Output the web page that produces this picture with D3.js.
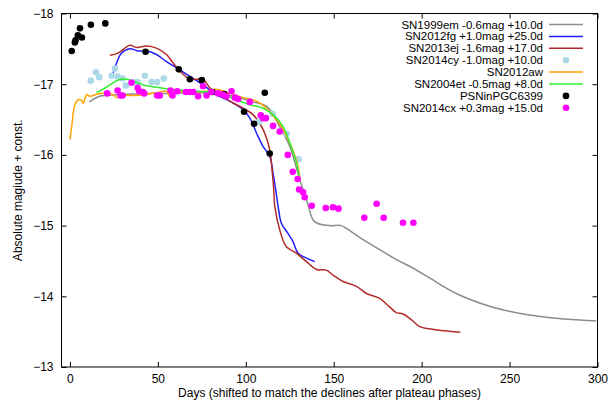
<!DOCTYPE html>
<html>
<head>
<meta charset="utf-8">
<script src="https://cdn.jsdelivr.net/npm/d3@7"></script>
<style>
  body { margin: 0; background: #fff; }
  text { font-family: "Liberation Sans", Arial, sans-serif; }
</style>
</head>
<body>
<div id="chart"></div>
<script>
// light curves: [day, mag]
var sn1999em = [[11,-16.75],[17,-16.83],[26.5,-16.85],[35,-16.86],[45,-16.87],[55,-16.87],[65,-16.88],[75,-16.88],[85,-16.86],[95,-16.82],[102,-16.76],[111.7,-16.69],[119.3,-16.40],[125,-16.12],[130.7,-15.65],[134.5,-15.37],[138.3,-15.08],[141,-15.03],[147.7,-15.00],[154.4,-15.00],[157.2,-14.96],[166.7,-14.80],[176.1,-14.66],[185.6,-14.52],[195,-14.40],[204.5,-14.26],[219.7,-14.04],[238.6,-13.86],[257.6,-13.75],[276.5,-13.69],[299.2,-13.65]];
var sn2012fg = [[24.6,-17.16],[26.5,-17.30],[29.4,-17.44],[34.1,-17.50],[38.8,-17.47],[43.6,-17.47],[49.2,-17.42],[54.9,-17.32],[60.6,-17.23],[68.2,-17.11],[75.7,-16.99],[83.3,-16.85],[90.9,-16.76],[98.5,-16.64],[102.3,-16.52],[106.1,-16.31],[109.8,-16.12],[113.6,-15.98],[115.5,-15.74],[117,-15.51],[118.4,-15.27],[120.3,-15.03],[124,-14.89],[126.9,-14.77],[129.7,-14.61],[134.5,-14.54],[139.2,-14.49]];
var sn2013ej = [[22.7,-17.41],[27.4,-17.44],[34.1,-17.55],[37.9,-17.52],[43.6,-17.54],[49.2,-17.51],[54.9,-17.42],[58.7,-17.30],[64.4,-17.14],[68.2,-17.07],[72,-17.07],[75.7,-17.07],[79.5,-16.95],[83.3,-16.88],[90.9,-16.76],[98.5,-16.66],[104.1,-16.57],[109.8,-16.36],[113.6,-16.07],[115.1,-15.74],[115.9,-15.51],[116.5,-15.27],[119.3,-14.94],[123.1,-14.70],[128.8,-14.61],[134.5,-14.49],[140.2,-14.38],[145.8,-14.37],[149.6,-14.30],[155.3,-14.21],[162.9,-14.14],[168.6,-14.04],[176.1,-13.97],[181.8,-13.85],[185.6,-13.77],[189.4,-13.75],[194.1,-13.67],[198.9,-13.57],[204.5,-13.54],[210.2,-13.52],[222,-13.49]];
var sn2014cy = [[11.8,-17.05],[14.8,-17.17],[16.6,-17.10],[23.7,-17.12],[25.6,-17.22],[27.1,-17.11],[29.9,-17.08],[31.8,-16.98],[35.6,-17.03],[38.5,-17.03],[42.6,-17.12],[46.4,-17.03],[49.6,-17.03],[53.4,-17.08],[107.6,-16.47],[115.2,-16.58],[123.3,-16.30],[130,-15.94]];
var sn2012aw = [[0,-16.22],[1,-16.40],[2.8,-16.71],[4.7,-16.78],[6.6,-16.77],[7.6,-16.73],[9.5,-16.85],[11.4,-16.83],[17,-16.87],[24.6,-16.85],[26.5,-16.81],[30.3,-16.84],[36,-16.84],[41.6,-16.85],[49.2,-16.88],[54.9,-16.90],[56.8,-16.83],[60.6,-16.89],[68.2,-16.89],[77.7,-16.90],[83.3,-16.93],[90.9,-16.87],[98.5,-16.81],[106.1,-16.76],[111.7,-16.66],[117.4,-16.50],[121.2,-16.36],[125,-16.17],[129.7,-15.84],[130.7,-15.63]];
var sn2004et = [[15.1,-16.88],[18.9,-16.93],[22.7,-16.99],[27.4,-17.06],[32.2,-17.07],[36,-17.04],[41.6,-16.99],[45.5,-16.97],[51.1,-16.95],[56.8,-16.93],[64.4,-16.91],[72,-16.90],[79.5,-16.89],[87.1,-16.85],[94.7,-16.78],[102.3,-16.71],[109.8,-16.66],[115.5,-16.57],[121.2,-16.40],[125,-16.17],[128.8,-15.89],[130.3,-15.70]];
var psn = [[1.0,-17.47],[2.8,-17.59],[3.2,-17.62],[4.5,-17.69],[6.8,-17.66],[5.7,-17.79],[11.9,-17.84],[20.1,-17.86],[43.0,-17.46],[61.9,-17.21],[68.2,-17.07],[75.0,-17.06],[81.1,-16.89],[87.7,-16.86],[99.0,-16.61],[104.7,-16.44],[110.8,-16.88],[113.6,-16.02]];
var sn2014cx = [[21.2,-16.87],[27.1,-16.91],[28.8,-16.84],[29.9,-16.84],[35,-17.02],[38.5,-16.95],[39.4,-16.90],[41.3,-16.89],[42.2,-16.87],[49.6,-16.84],[51.1,-16.84],[57.2,-16.91],[58.3,-16.84],[61,-16.90],[65.9,-16.89],[68.2,-16.89],[70.1,-16.89],[72.9,-16.83],[75.7,-16.97],[77.7,-16.84],[80.5,-16.89],[84.3,-16.87],[87.1,-16.85],[89,-16.83],[91.9,-16.90],[93.8,-16.81],[95.6,-16.79],[102.3,-16.75],[108.5,-16.56],[109.8,-16.52],[111.4,-16.52],[115.5,-16.41],[119.3,-16.33],[123.9,-16.0],[126.7,-15.76],[129.5,-15.66],[130.3,-15.51],[132.6,-15.47],[133.5,-15.40],[137.5,-15.28],[145.5,-15.25],[149.6,-15.26],[152.7,-15.24],[167.4,-15.11],[174.4,-15.31],[178.4,-15.11],[189.4,-15.04],[195.3,-15.04]];

var xTicks = [0, 50, 100, 150, 200, 250, 300];
var yTicks = [-18, -17, -16, -15, -14, -13];

var series = [
  { name: "SN1999em -0.6mag +10.0d", data: sn1999em, type: "line", color: "#8c8c8c" },
  { name: "SN2012fg +1.0mag +25.0d", data: sn2012fg, type: "line", color: "#1f1fff" },
  { name: "SN2013ej -1.6mag +17.0d", data: sn2013ej, type: "line", color: "#b22a2a" },
  { name: "SN2014cy -1.0mag +10.0d", data: sn2014cy, type: "point", color: "#add8e6" },
  { name: "SN2012aw", data: sn2012aw, type: "line", color: "#ffa500" },
  { name: "SN2004et -0.5mag +8.0d", data: sn2004et, type: "line", color: "#33ee33" },
  { name: "PSNinPGC6399", data: psn, type: "point", color: "#000000" },
  { name: "SN2014cx +0.3mag +15.0d", data: sn2014cx, type: "point", color: "#ff00ff" }
];

var W = 615, H = 403;
var pLeft = 61.5, pRight = 597.5, pTop = 13.5, pBottom = 367;

var svg = d3.select("#chart").append("svg")
  .attr("width", W).attr("height", H);

var x = d3.scaleLinear().domain([-4.8, 300]).range([pLeft, pRight]);
var y = d3.scaleLinear().domain([-18, -13]).range([pTop, pBottom]);

// axes, gnuplot style ticks pointing inwards on all sides
svg.append("g")
  .attr("transform", "translate(0," + pBottom + ")")
  .call(d3.axisBottom(x).tickValues(xTicks).tickSize(-5).tickPadding(7));
svg.append("g")
  .attr("transform", "translate(0," + pTop + ")")
  .call(d3.axisTop(x).tickValues(xTicks).tickSize(-5).tickFormat(""));
svg.append("g")
  .attr("transform", "translate(" + pLeft + ",0)")
  .call(d3.axisLeft(y).tickValues(yTicks).tickSize(-5).tickPadding(8).tickFormat(d3.format("d")));
svg.append("g")
  .attr("transform", "translate(" + pRight + ",0)")
  .call(d3.axisRight(y).tickValues(yTicks).tickSize(-5).tickFormat(""));

svg.selectAll(".domain").remove();
svg.selectAll(".tick line").attr("stroke", "#000");
svg.selectAll(".tick text")
  .attr("fill", "#000")
  .style("font-size", "12px")
  .style("font-family", "'Liberation Sans', Arial, sans-serif");

svg.append("rect")
  .attr("x", pLeft).attr("y", pTop)
  .attr("width", pRight - pLeft).attr("height", pBottom - pTop)
  .attr("fill", "none").attr("stroke", "#000").attr("stroke-width", 1);

var line = d3.line()
  .x(function(d) { return x(d[0]); })
  .y(function(d) { return y(d[1]); })
  .curve(d3.curveCatmullRom);

var plot = svg.append("g");

series.forEach(function(s) {
  if (s.type === "line") {
    plot.append("path")
      .datum(s.data)
      .attr("d", line)
      .attr("fill", "none")
      .attr("stroke", s.color)
      .attr("stroke-width", 1.5);
  } else {
    plot.selectAll(null)
      .data(s.data)
      .enter()
      .append("circle")
      .attr("cx", function(d) { return x(d[0]); })
      .attr("cy", function(d) { return y(d[1]); })
      .attr("r", 3.3)
      .attr("fill", s.color);
  }
});

// legend
var legend = svg.append("g");
series.forEach(function(s, i) {
  var ly = 24.5 + i * 11.9;
  legend.append("text")
    .attr("x", 543)
    .attr("y", ly)
    .attr("dy", "0.35em")
    .attr("text-anchor", "end")
    .style("font-size", "11.5px")
    .text(s.name);
  if (s.type === "line") {
    legend.append("line")
      .attr("x1", 549).attr("x2", 583)
      .attr("y1", ly).attr("y2", ly)
      .attr("stroke", s.color).attr("stroke-width", 1.5);
  } else {
    legend.append("circle")
      .attr("cx", 566).attr("cy", ly).attr("r", 3.3)
      .attr("fill", s.color);
  }
});

// axis titles
svg.append("text")
  .attr("x", (pLeft + pRight) / 2)
  .attr("y", 397)
  .attr("text-anchor", "middle")
  .style("font-size", "12px")
  .text("Days (shifted to match the declines after plateau phases)");

svg.append("text")
  .attr("transform", "translate(22," + ((pTop + pBottom) / 2) + ") rotate(-90)")
  .attr("text-anchor", "middle")
  .style("font-size", "12px")
  .text("Absolute magiude + const.");
</script>
</body>
</html>
